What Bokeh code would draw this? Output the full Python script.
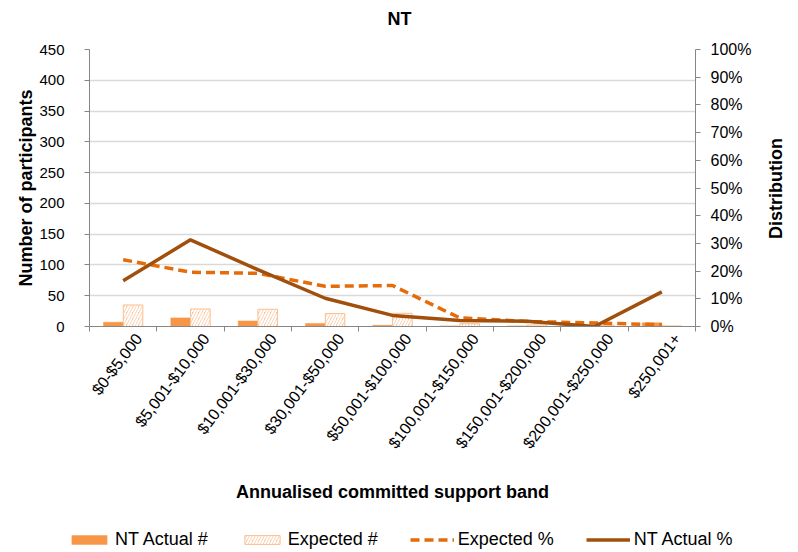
import numpy as np
from bokeh.plotting import figure
from bokeh.layouts import column, row
from bokeh.core.properties import value
from bokeh.models import (Range1d, LinearAxis, FixedTicker, NumeralTickFormatter,
                          Legend, LegendItem, ColumnDataSource)
from bokeh.transform import dodge
from bokeh.embed import file_html
from bokeh.resources import INLINE

# Annualised committed support bands (NT)
bands = ["$0-$5,000", "$5,001-$10,000", "$10,001-$30,000", "$30,001-$50,000",
         "$50,001-$100,000", "$100,001-$150,000", "$150,001-$200,000",
         "$200,001-$250,000", "$250,001+"]
actual_count = [7, 14, 9, 5, 2, 1, 1, 0, 6]
expected_count = [35, 28.5, 28, 21, 21.5, 4.5, 2.5, 1.8, 1]
expected_pct = [0.241, 0.196, 0.192, 0.145, 0.148, 0.031, 0.018, 0.013, 0.006]
actual_pct = [0.165, 0.313, 0.205, 0.102, 0.040, 0.022, 0.019, 0.0, 0.125]

count_ticks = list(range(0, 451, 50))
pct_ticks = [i / 10 for i in range(11)]

FONT = "Liberation Sans"
AXIS_GREY = "#868686"
ACT_BAR = dict(fill_color="#F79646", line_color="#F79646", line_width=0.5)
EXP_BAR = dict(fill_color="#FAC59C", line_color="#FAC090", line_width=1,
               hatch_pattern="/", hatch_color="white", hatch_weight=2, hatch_scale=6)
EXP_LINE = dict(line_color="#E46C0A", line_width=3.5, line_dash="9 5")
ACT_LINE = dict(line_color="#A0500C", line_width=3.5)

TOTAL_W, TOTAL_H = 798, 552
MAIN_W, SIDE_W = 760, 38
TITLE_H, LEG_H = 36, 42
MAIN_H = TOTAL_H - TITLE_H - LEG_H
FRAME_L, FRAME_R, FRAME_T, FRAME_B = 89, 695, 49, 326


def strip(width, height, xr, yr):
    f = figure(width=width, height=height, x_range=Range1d(*xr), y_range=Range1d(*yr),
               output_backend="svg", toolbar_location=None,
               x_axis_location=None, y_axis_location=None,
               min_border_left=0, min_border_right=0, min_border_top=0,
               min_border_bottom=0)
    f.grid.visible = False
    f.outline_line_color = None
    try:
        f.frame_align = False
    except AttributeError:
        pass
    return f


n = len(bands)
centers = [i + 0.5 for i in range(n)]
bounds = list(range(n + 1))
# band names sit slightly right of each band's centre
label_pos = [c + 0.23 for c in centers]

src = ColumnDataSource(dict(x=centers, actual=actual_count, expected=expected_count,
                            exp_pct=expected_pct, act_pct=actual_pct))

p = figure(width=MAIN_W, height=MAIN_H, x_range=Range1d(0, n), y_range=Range1d(0, 450),
           output_backend="svg", toolbar_location=None,
           min_border_left=FRAME_L, min_border_right=MAIN_W - FRAME_R,
           min_border_top=FRAME_T - TITLE_H,
           min_border_bottom=MAIN_H - (FRAME_B - TITLE_H))
p.extra_y_ranges = {"pct": Range1d(0, 1)}
p.outline_line_color = None
p.background_fill_color = "white"
p.border_fill_color = "white"

# bars
p.vbar(x=dodge("x", -0.147, range=p.x_range), top="actual", width=0.29,
       source=src, **ACT_BAR)
p.vbar(x=dodge("x", 0.147, range=p.x_range), top="expected", width=0.29,
       source=src, **EXP_BAR)

# distribution lines on the right-hand scale
p.line("x", "exp_pct", source=src, y_range_name="pct", **EXP_LINE)
p.line("x", "act_pct", source=src, y_range_name="pct", **ACT_LINE)

# axes
xa = p.xaxis[0]
xa.ticker = FixedTicker(ticks=label_pos, minor_ticks=bounds)
xa.major_label_overrides = {c: b for c, b in zip(label_pos, bands)}
xa.major_label_orientation = 0.925
xa.major_tick_out = 0
xa.major_tick_in = 0
xa.minor_tick_out = 5
xa.minor_tick_in = 0
xa.axis_line_color = AXIS_GREY
xa.minor_tick_line_color = AXIS_GREY
xa.major_label_text_font = FONT
xa.major_label_text_font_size = "16px"
xa.major_label_text_color = "black"
xa.major_label_standoff = 4
xa.axis_label = "Annualised committed support band"
xa.axis_label_text_font = FONT
xa.axis_label_text_font_size = "18px"
xa.axis_label_text_font_style = "bold"
xa.axis_label_text_color = "black"
xa.axis_label_standoff = 22

ya = p.yaxis[0]
ya.ticker = FixedTicker(ticks=count_ticks)
ya.minor_tick_line_color = None
ya.major_tick_out = 5
ya.major_tick_in = 0
ya.axis_line_color = AXIS_GREY
ya.major_tick_line_color = AXIS_GREY
ya.major_label_text_font = FONT
ya.major_label_text_font_size = "15px"
ya.major_label_text_color = "black"
ya.major_label_standoff = 20
ya.axis_label = "Number of participants"
ya.axis_label_text_font = FONT
ya.axis_label_text_font_size = "18px"
ya.axis_label_text_font_style = "bold"
ya.axis_label_text_color = "black"
ya.axis_label_standoff = 0

ra = LinearAxis(y_range_name="pct", ticker=FixedTicker(ticks=pct_ticks),
                formatter=NumeralTickFormatter(format="0%"))
ra.minor_tick_line_color = None
ra.major_tick_out = 5
ra.major_tick_in = 0
ra.axis_line_color = AXIS_GREY
ra.major_tick_line_color = AXIS_GREY
ra.major_label_text_font = FONT
ra.major_label_text_font_size = "16px"
ra.major_label_text_color = "black"
ra.major_label_standoff = 10
p.add_layout(ra, "right")

p.xgrid.visible = False
p.ygrid.grid_line_color = "#D9D9D9"
p.ygrid.grid_line_width = 1.5

# chart title strip
top = strip(MAIN_W, TITLE_H, (0, MAIN_W), (0, TITLE_H))
top.text(x=[399], y=[TITLE_H - 18], text=["NT"], text_align="center",
         text_baseline="middle", text_font=value(FONT), text_font_size="18px",
         text_font_style="bold", text_color="black")

# right-hand axis title, reading upwards
side = strip(SIDE_W, TOTAL_H, (0, SIDE_W), (0, TOTAL_H))
side.text(x=[775 - MAIN_W], y=[TOTAL_H - 188], text=["Distribution"],
          angle=np.pi / 2, text_align="center", text_baseline="middle",
          text_font=value(FONT), text_font_size="18px", text_font_style="bold",
          text_color="black")

# legend strip underneath the chart
leg = strip(MAIN_W, LEG_H, (0, 1), (0, 1))
offscreen = ColumnDataSource(dict(x=[5, 6], y=[5, 6]))
k1 = leg.vbar(x="x", top="y", width=0.1, source=offscreen, **ACT_BAR)
k2 = leg.vbar(x="x", top="y", width=0.1, source=offscreen, **EXP_BAR)
k3 = leg.line("x", "y", source=offscreen, **EXP_LINE)
k4 = leg.line("x", "y", source=offscreen, **ACT_LINE)

legend = Legend(items=[LegendItem(label="NT Actual #", renderers=[k1]),
                       LegendItem(label="Expected #", renderers=[k2]),
                       LegendItem(label="Expected %", renderers=[k3]),
                       LegendItem(label="NT Actual %", renderers=[k4])],
                location=(67, 2), orientation="horizontal")
legend.border_line_color = None
legend.background_fill_alpha = 0
legend.glyph_width = 44
legend.glyph_height = 11
legend.label_standoff = 4
legend.spacing = 32
legend.padding = 0
legend.margin = 0
legend.label_text_font = FONT
legend.label_text_font_size = "18px"
legend.label_text_color = "black"
leg.add_layout(legend)

layout = row(column(top, p, leg, spacing=0), side, spacing=0)
open("out.html", "w").write(file_html(layout, INLINE))
